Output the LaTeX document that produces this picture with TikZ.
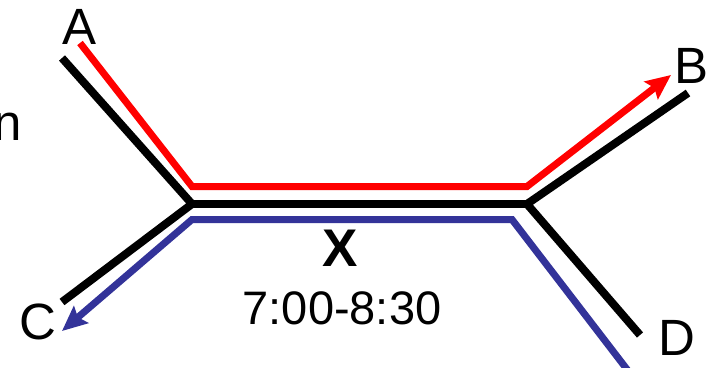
\documentclass[tikz,border=0pt]{standalone}
\usepackage{fontspec}
\setmainfont{Liberation Sans}
\usetikzlibrary{arrows.meta}
\definecolor{routeblue}{RGB}{51,51,153}

\begin{document}
\begin{tikzpicture}[
    x=1pt, y=-1pt,
    road/.style={line width=8pt, black},
    route/.style={line width=7pt},
    routehead/.style={-{Stealth[length=25pt, width=22pt, inset=4pt]}},
    placename/.style={inner sep=0pt, font=\fontsize{51}{60}\selectfont},
]
    \useasboundingbox (0,0) rectangle (707,367);

    % Junctions and road ends
    \coordinate (jl) at (192,204);
    \coordinate (jr) at (527,204);
    \coordinate (endA) at (62,58);
    \coordinate (endB) at (688,93);
    \coordinate (endC) at (62,302);
    \coordinate (endD) at (640,335);

    % Roads
    \draw[road] (endA) -- (jl) -- (endC);
    \draw[road] (jl) -- (jr);
    \draw[road] (endB) -- (jr) -- (endD);

    % Route A -> B
    \coordinate (redA) at (80,43);
    \coordinate (redL) at (192,186.5);
    \coordinate (redR) at (527,186.5);
    \coordinate (redB) at (671,75);
    \draw[route, red, routehead] (redA) -- (redL) -- (redR) -- (redB);

    % Route D -> C
    \coordinate (blueD) at (629,372);
    \coordinate (blueR) at (512,219.5);
    \coordinate (blueL) at (192,219.5);
    \coordinate (blueC) at (62,331);
    \draw[route, routeblue, routehead] (blueD) -- (blueR) -- (blueL) -- (blueC);

    % Place names
    \node[placename] (nameA) at (80,27) {A};
    \node[placename] (nameB) at (692,66) {B};
    \node[placename] (nameC) at (38,322) {C};
    \node[placename] (nameD) at (677,338) {D};
    \node[placename] (cutword) at (7.5,126.5) {n};

    % Section label
    \node[placename, font=\fontsize{53}{60}\selectfont\bfseries] (sectX) at (340,248) {X};
    \node[placename, font=\fontsize{47}{56}\selectfont] (sectTime) at (342,308) {7:00-8:30};
\end{tikzpicture}
\end{document}
